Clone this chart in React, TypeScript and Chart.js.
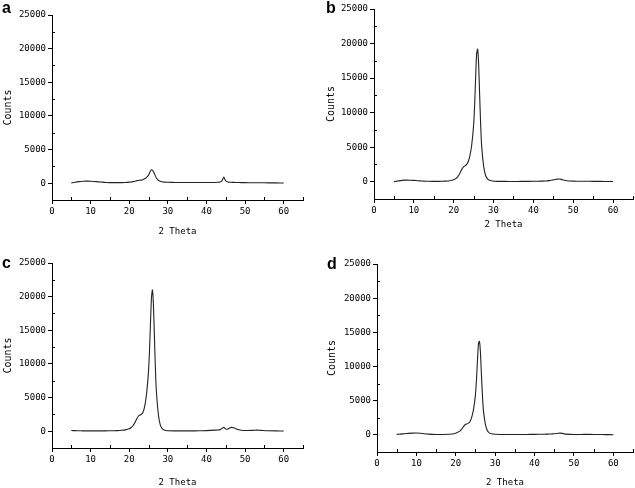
import React, { useEffect, useRef } from "react";
import { Chart, registerables } from "chart.js";

Chart.register(...registerables);

// ---- Data ----
const THETA = [
  5, 6, 7, 8, 9, 10, 11, 12, 13, 14, 15, 16, 17, 18, 19, 20,
  20.5, 21, 21.5, 22, 22.5, 23, 23.5, 24, 24.5, 25,
  25.25, 25.5, 25.75, 26, 26.25, 26.5, 26.75, 27,
  27.5, 28, 28.5, 29,
  30, 32, 34, 36, 38, 40, 42,
  43, 43.5, 44, 44.25, 44.5, 44.75, 45,
  45.5, 46, 46.5, 47, 47.5, 48,
  49, 50, 52, 53, 54, 56, 58, 60,
];

const COUNTS_A = [
  50, 150, 230, 280, 300, 290, 250, 200, 150, 110, 90, 80, 80, 90, 110, 150,
  180, 230, 300, 380, 430, 460, 520, 650, 850, 1200,
  1500, 1800, 1980, 1950, 1750, 1450, 1100, 800,
  450, 280, 200, 160,
  130, 110, 100, 100, 100, 100, 110,
  130, 160, 350, 650, 900, 600, 330,
  180, 140, 130, 120, 110, 100,
  90, 80, 70, 70, 60, 50, 40, 30,
];

const COUNTS_B = [
  0, 100, 200, 230, 220, 190, 150, 110, 80, 60, 50, 50, 60, 90, 150, 300,
  450, 700, 1150, 1750, 2200, 2350, 2700, 3600, 5200, 8200,
  11000, 15000, 18500, 19200, 17200, 12800, 8500, 5300,
  2300, 900, 400, 200,
  80, 50, 40, 40, 50, 60, 80,
  110, 130, 160, 180, 210, 240, 270,
  320, 370, 390, 340, 250, 170,
  110, 90, 70, 70, 60, 50, 40, 30,
];

const COUNTS_C = [
  100, 80, 60, 50, 40, 40, 40, 40, 40, 50, 60, 70, 90, 130, 200, 350,
  550, 850, 1300, 1900, 2300, 2450, 2700, 3700, 5600, 9000,
  12000, 16000, 19800, 21000, 19000, 14500, 9800, 6200,
  2700, 1000, 400, 180,
  60, 40, 40, 40, 60, 90, 150,
  180, 230, 380, 500, 580, 430, 300,
  330, 480, 560, 520, 400, 250,
  150, 110, 120, 150, 120, 60, 40, 30,
];

const COUNTS_D = [
  80, 120, 170, 220, 260, 280, 240, 170, 110, 80, 60, 60, 70, 90, 140, 250,
  380, 550, 850, 1250, 1550, 1650, 1850, 2500, 3700, 5900,
  8000, 10800, 13300, 13700, 12200, 9000, 6000, 3700,
  1600, 650, 300, 170,
  90, 60, 60, 60, 70, 80, 100,
  110, 120, 130, 140, 150, 160, 170,
  200, 240, 260, 220, 160, 110,
  80, 70, 70, 80, 80, 60, 40, 30,
];

const X_MAJOR = [0, 10, 20, 30, 40, 50, 60];
const X_MINOR = [5, 15, 25, 35, 45, 55, 65];
const Y_MAJOR = [0, 5000, 10000, 15000, 20000, 25000];
const Y_MINOR = [2500, 7500, 12500, 17500, 22500];
const X_RANGE = [0, 65];
const Y_RANGE = [-2500, 25000];
const X_TITLE = "2 Theta";
const Y_TITLE = "Counts";
const LETTERS = ["a", "b", "c", "d"];
const SERIES = [COUNTS_A, COUNTS_B, COUNTS_C, COUNTS_D];

// ---- Layout (canvas boxes, in page pixels) ----
type Box = {
  left: number; top: number; width: number; height: number;
  areaLeft: number; areaRight: number; areaTop: number; areaBottom: number;
  yTitlePad: number; xTitlePad: number; letterX: number; letterY: number;
};

const BOXES: Box[] = [
  { left: 0, top: 0, width: 317, height: 240, areaLeft: 52, areaRight: 303, areaTop: 15, areaBottom: 200, yTitlePad: 2, xTitlePad: 2.5, letterX: 2, letterY: 13 },
  { left: 317, top: 0, width: 318, height: 240, areaLeft: 57, areaRight: 316, areaTop: 9, areaBottom: 199, yTitlePad: 8, xTitlePad: 10, letterX: 9, letterY: 13 },
  { left: 0, top: 244, width: 317, height: 244, areaLeft: 52, areaRight: 303, areaTop: 19, areaBottom: 204, yTitlePad: 2.5, xTitlePad: 0, letterX: 2, letterY: 24 },
  { left: 317, top: 244, width: 318, height: 244, areaLeft: 60, areaRight: 316, areaTop: 20, areaBottom: 208, yTitlePad: 9.5, xTitlePad: 0, letterX: 10, letterY: 25 },
];

const MONO = "'DejaVu Sans Mono', 'Liberation Mono', monospace";

function makeChart(canvas: HTMLCanvasElement, idx: number) {
  const box = BOXES[idx];
  const counts = SERIES[idx];
  const letter = LETTERS[idx];
  const points = THETA.map((t, i) => ({ x: t, y: counts[i] }));

  const extras = {
    id: "extras" + idx,
    afterDraw(chart: any) {
      const ctx = chart.ctx;
      const area = chart.chartArea;
      const xs = chart.scales.x;
      const ys = chart.scales.y;
      ctx.save();
      ctx.strokeStyle = "#000";
      ctx.lineWidth = 1;
      ctx.beginPath();
      X_MINOR.forEach((v) => {
        const px = Math.round(xs.getPixelForValue(v)) + 0.5;
        ctx.moveTo(px, area.bottom);
        ctx.lineTo(px, area.bottom - 3);
      });
      Y_MINOR.forEach((v) => {
        const py = Math.round(ys.getPixelForValue(v)) + 0.5;
        ctx.moveTo(area.left, py);
        ctx.lineTo(area.left + 3, py);
      });
      ctx.stroke();
      ctx.fillStyle = "#000";
      ctx.font = "bold 16px 'Liberation Sans', Arial, sans-serif";
      ctx.textBaseline = "alphabetic";
      ctx.textAlign = "left";
      ctx.fillText(letter, box.letterX, box.letterY);
      ctx.restore();
    },
  };

  return new Chart(canvas, {
    type: "line",
    data: {
      datasets: [
        {
          data: points,
          borderColor: "#222",
          borderWidth: 1.1,
          pointRadius: 0,
          fill: false,
          tension: 0.2,
        },
      ],
    },
    options: {
      animation: false,
      responsive: false,
      events: [],
      layout: {
        padding: {
          left: 0,
          top: box.areaTop,
          right: box.width - box.areaRight,
          bottom: 0,
        },
      },
      plugins: {
        legend: { display: false },
        tooltip: { enabled: false },
      },
      scales: {
        x: {
          type: "linear",
          min: X_RANGE[0],
          max: X_RANGE[1],
          afterBuildTicks: (s: any) => {
            s.ticks = X_MAJOR.map((v) => ({ value: v }));
          },
          afterFit: (s: any) => {
            s.height = box.height - box.areaBottom;
          },
          ticks: {
            autoSkip: false,
            maxRotation: 0,
            color: "#000",
            padding: 2,
            font: { family: MONO, size: 9 },
            callback: (v: any) => String(v),
          },
          grid: {
            drawOnChartArea: false,
            drawTicks: true,
            tickLength: 4,
            color: "#000",
          },
          border: { display: true, color: "#000", width: 1 },
          title: {
            display: true,
            text: X_TITLE,
            color: "#000",
            font: { family: MONO, size: 9 },
            padding: { top: 0, bottom: box.xTitlePad },
          },
        },
        y: {
          type: "linear",
          min: Y_RANGE[0],
          max: Y_RANGE[1],
          afterBuildTicks: (s: any) => {
            s.ticks = Y_MAJOR.map((v) => ({ value: v }));
          },
          afterFit: (s: any) => {
            s.width = box.areaLeft;
          },
          ticks: {
            autoSkip: false,
            color: "#000",
            padding: 2,
            font: { family: MONO, size: 9 },
            callback: (v: any) => String(v),
          },
          grid: {
            drawOnChartArea: false,
            drawTicks: true,
            tickLength: 4,
            color: "#000",
          },
          border: { display: true, color: "#000", width: 1 },
          title: {
            display: true,
            text: Y_TITLE,
            color: "#000",
            font: { family: MONO, size: 10 },
            padding: { top: box.yTitlePad, bottom: 0 },
          },
        },
      },
    },
    plugins: [extras],
  } as any);
}

export default function App() {
  const refs = useRef<(HTMLCanvasElement | null)[]>([]);

  useEffect(() => {
    const charts: Chart[] = [];
    refs.current.forEach((c, i) => {
      if (c) charts.push(makeChart(c, i));
    });
    return () => charts.forEach((ch) => ch.destroy());
  }, []);

  return (
    <div
      style={{
        position: "absolute",
        left: 0,
        top: 0,
        width: 635,
        height: 488,
        background: "#fff",
        overflow: "hidden",
      }}
    >
      {BOXES.map((b, i) => (
        <canvas
          key={i}
          ref={(el) => {
            refs.current[i] = el;
          }}
          width={b.width}
          height={b.height}
          style={{
            position: "absolute",
            left: b.left,
            top: b.top,
            width: b.width,
            height: b.height,
          }}
        />
      ))}
    </div>
  );
}
